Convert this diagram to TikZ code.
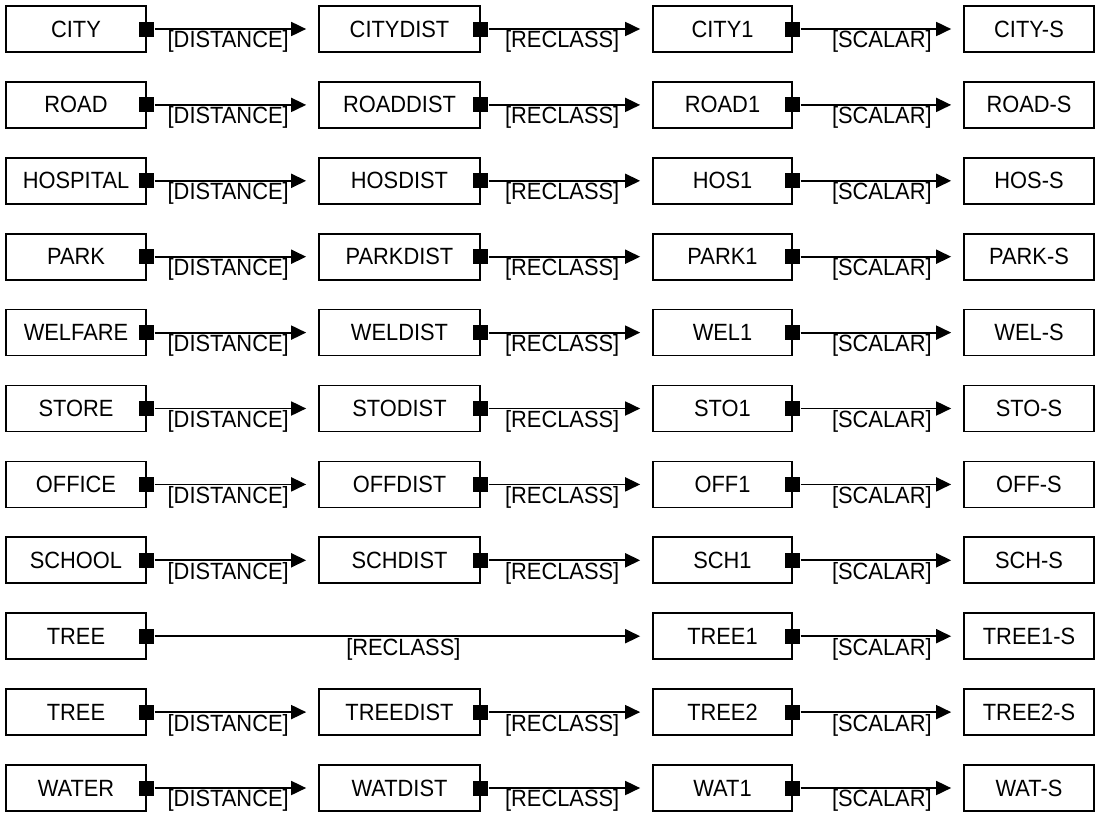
\documentclass[tikz,border=0pt]{standalone}
\usepackage{fontspec}
\setmainfont[FakeStretch=0.93]{Liberation Sans}
\usetikzlibrary{arrows.meta, positioning, calc}

\tikzset{
  layer/.style={draw=black, line width=1.7pt, minimum height=46pt, inner sep=0pt, font=\fontsize{23.5}{26}\selectfont},
  port/.style={fill=black, inner sep=0pt, minimum size=15pt},
  flow/.style={line width=1.8pt, -{Triangle[length=15pt,width=14pt]}, shorten >=12pt},
  op/.style={below, inner sep=1pt, font=\fontsize{23.5}{26}\selectfont}
}

\begin{document}
\begin{tikzpicture}[x=1pt, y=-1pt]
      \useasboundingbox (0,0) rectangle (1099,814);

      % ordinary rows: source -> distance -> reclass -> scalar
      \foreach \i/\ya/\na/\nb/\nc/\nd in {1/0/CITY/CITYDIST/CITY1/CITY-S, 2/1/ROAD/ROADDIST/ROAD1/ROAD-S,
          3/2/HOSPITAL/HOSDIST/HOS1/HOS-S, 4/3/PARK/PARKDIST/PARK1/PARK-S,
          5/4/WELFARE/WELDIST/WEL1/WEL-S, 6/5/STORE/STODIST/STO1/STO-S,
          7/6/OFFICE/OFFDIST/OFF1/OFF-S, 8/7/SCHOOL/SCHDIST/SCH1/SCH-S,
          10/9/TREE/TREEDIST/TREE2/TREE2-S, 11/10/WATER/WATDIST/WAT1/WAT-S} {
        \node[layer, minimum width=140pt] (src\i) at (76, 29+75.9*\ya) {\na};
        \node[layer, minimum width=161pt] (dst\i) at (399.5, 29+75.9*\ya) {\nb};
        \node[layer, minimum width=139pt] (rcl\i) at (722.5, 29+75.9*\ya) {\nc};
        \node[layer, minimum width=130pt] (scl\i) at (1029, 29+75.9*\ya) {\nd};

        \node[port] (pa\i) at (src\i.east) {};
        \node[port] (pb\i) at (dst\i.east) {};
        \node[port] (pc\i) at (rcl\i.east) {};

        \draw[flow] (pa\i.east) -- (dst\i.west) node[op, pos=0.45] {[DISTANCE]};
        \draw[flow] (pb\i.east) -- (rcl\i.west) node[op, pos=0.45] {[RECLASS]};
        \draw[flow] (pc\i.east) -- (scl\i.west) node[op, pos=0.5] {[SCALAR]};
      }

      % tree row without distance step
      \node[layer, minimum width=140pt] (src9) at (76, 29+75.9*8) {TREE};
      \node[layer, minimum width=139pt] (rcl9) at (722.5, 29+75.9*8) {TREE1};
      \node[layer, minimum width=130pt] (scl9) at (1029, 29+75.9*8) {TREE1-S};
      \node[port] (pa9) at (src9.east) {};
      \node[port] (pc9) at (rcl9.east) {};
      \draw[flow] (pa9.east) -- (rcl9.west) node[op, pos=0.5] {[RECLASS]};
      \draw[flow] (pc9.east) -- (scl9.west) node[op, pos=0.5] {[SCALAR]};

    \end{tikzpicture}
\end{document}
